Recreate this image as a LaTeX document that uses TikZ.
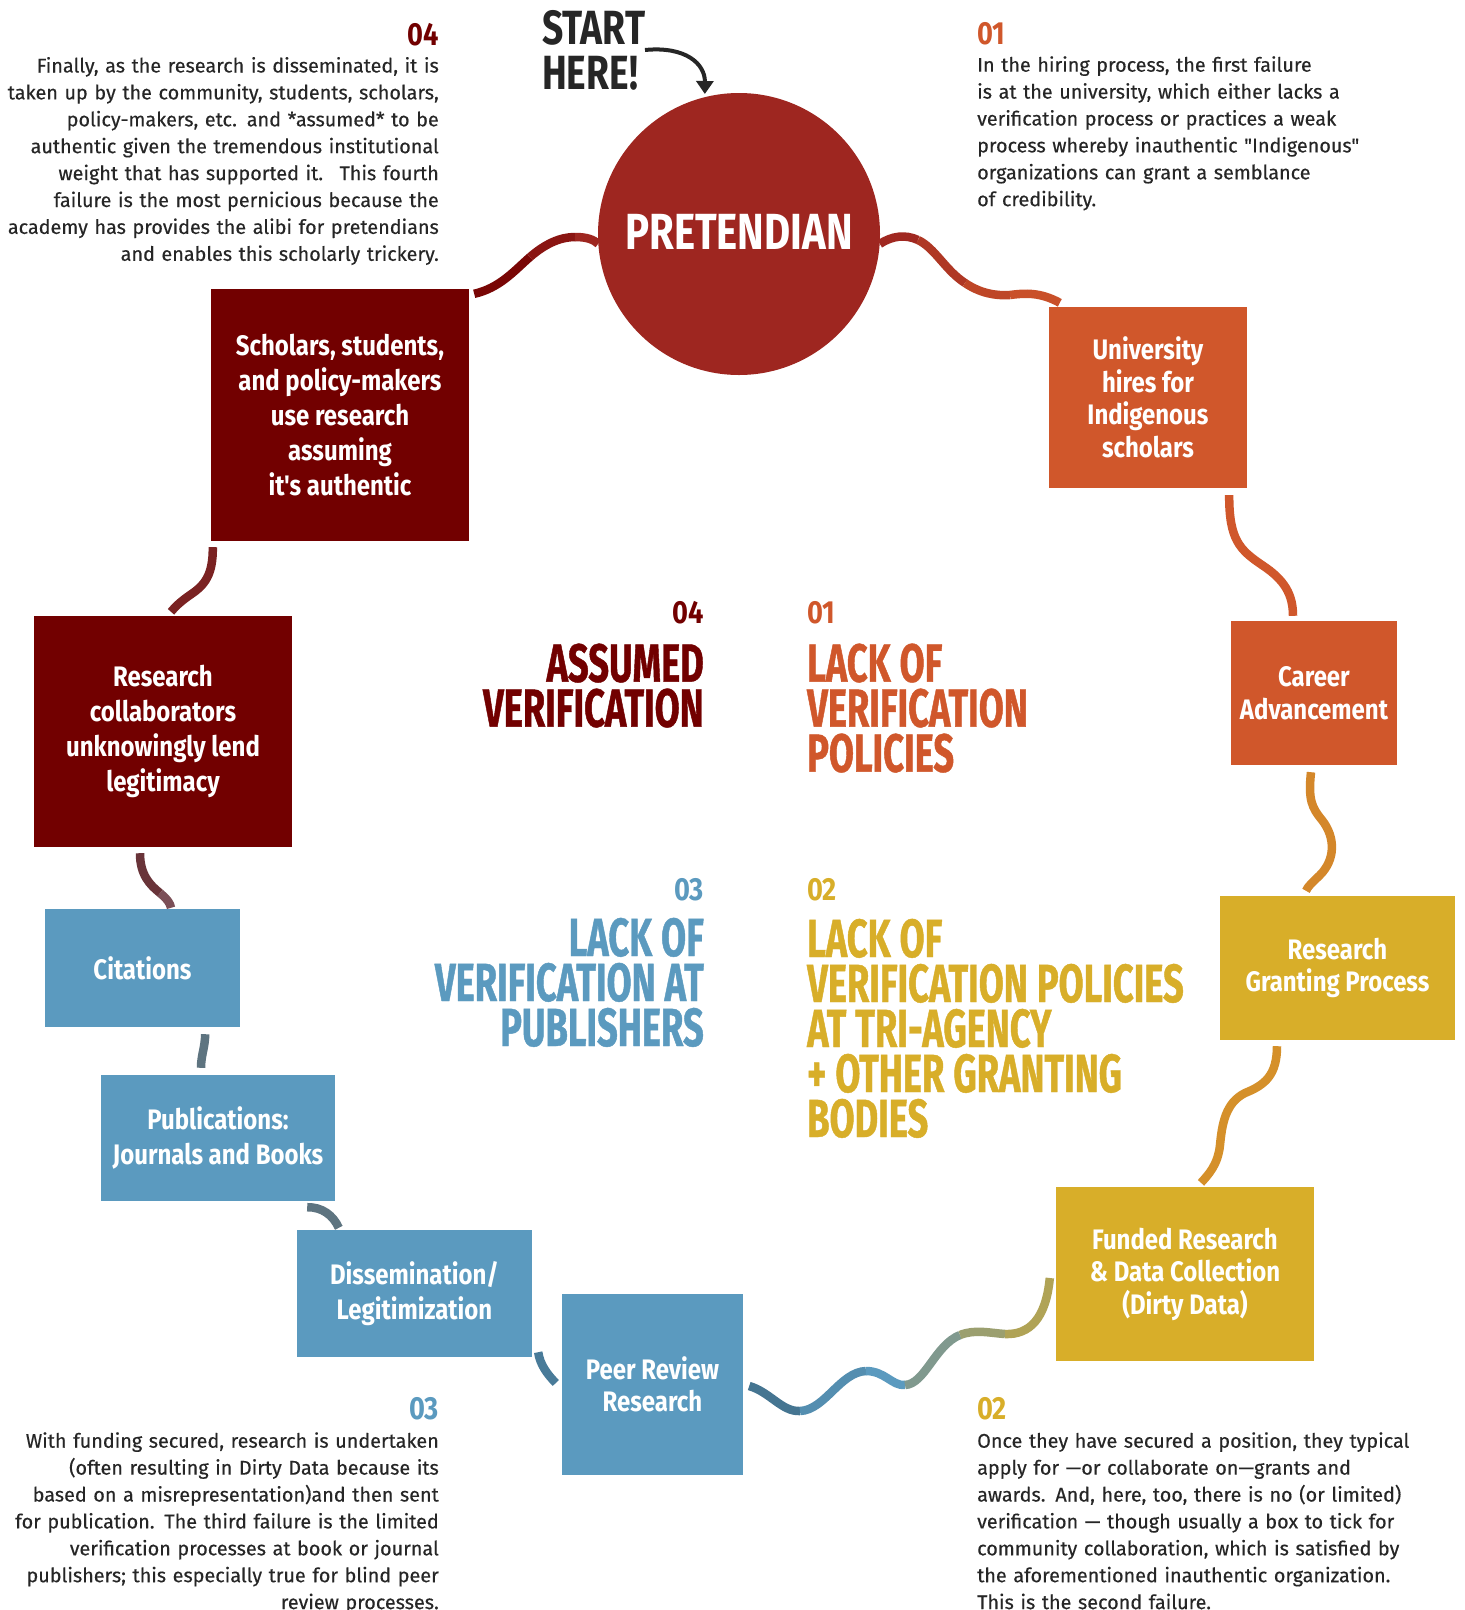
\documentclass[tikz,border=0pt]{standalone}
\usepackage{fontspec}
\usetikzlibrary{arrows.meta}
\newfontfamily\FontBody[FakeBold=0.35]{Fira Sans}
\newfontfamily\FontBox[FakeStretch=0.85]{Fira Sans}
\newfontfamily\FontHead[FakeStretch=0.675,FakeBold=0.8]{Fira Sans}
\newfontfamily\FontNum[FakeStretch=0.85]{Fira Sans}
\newfontfamily\FontCirc[FakeStretch=0.79]{Fira Sans}
\newfontfamily\FontStart[FakeStretch=0.775]{Fira Sans}
\definecolor{dred}{HTML}{720000}
\definecolor{circ}{HTML}{9E2620}
\definecolor{orng}{HTML}{D0572B}
\definecolor{gold}{HTML}{D8AE29}
\definecolor{blu}{HTML}{5B9ABF}
\definecolor{txt}{HTML}{262626}
\tikzset{
  flowbox/.style={rectangle, inner sep=0pt, align=center, text=white,
    font=\FontBox\bfseries\fontsize{28.2}{32.5}\selectfont},
  widelines/.style={font=\FontBox\bfseries\fontsize{28.2}{34.8}\selectfont},
  conn/.style={line width=8.5pt, line cap=butt},
  para/.style={inner sep=0pt, text=txt, font=\FontBody\fontsize{19.8}{26.9}\selectfont},
  headline/.style={inner sep=0pt, font=\FontHead\bfseries\fontsize{53.7}{45}\selectfont,
    execute at begin node={\spaceskip=9pt\relax}},
  numlabel/.style={inner sep=0pt, font=\FontNum\bfseries\fontsize{32}{32}\selectfont},
}
\begin{document}
\begin{tikzpicture}[x=1pt,y=-1pt]
\useasboundingbox (0,0) rectangle (1465,1610);
\fill[white] (0,0) rectangle (1465,1610);

% ---------- central circle and start label
\node[circle, fill=circ, minimum size=282pt, inner sep=0pt, text=white,
  font=\FontCirc\bfseries\fontsize{50.8}{50.8}\selectfont] (pret) at (739,234) {\raisebox{3.5pt}{PRETENDIAN}};
\node[anchor=north west, inner sep=0pt, align=left, text=txt,
  font=\FontStart\bfseries\fontsize{48}{45}\selectfont] (start) at (542,10) {START\\HERE!};
\coordinate (arrowstart) at (645,50);
\draw[line width=4pt, txt, -{Triangle[length=13pt,width=17pt]}] (arrowstart) .. controls (686,46) and (705,64) .. ([shift={(0,-3)}]pret.104);

% ---------- boxes
\node[flowbox, widelines, fill=dred, minimum width=258pt, minimum height=252pt] (schol) at (340,415)
  {Scholars, students,\\and policy-makers\\use research\\assuming\\it's authentic};
\node[flowbox, fill=orng, minimum width=198pt, minimum height=181pt] (uni) at (1148,397.5)
  {University\\hires for\\Indigenous\\scholars};
\node[flowbox, fill=orng, minimum width=166pt, minimum height=144pt] (career) at (1314,693)
  {Career\\Advancement};
\node[flowbox, fill=gold, minimum width=235pt, minimum height=144pt] (grant) at (1337.5,968)
  {Research\\Granting Process};
\node[flowbox, fill=gold, minimum width=258pt, minimum height=174pt] (fund) at (1185,1274)
  {Funded Research\\\& Data Collection\\(Dirty Data)};
\node[flowbox, fill=blu, minimum width=181pt, minimum height=181pt] (peer) at (652.5,1384.5)
  {Peer Review\\Research};
\node[flowbox, widelines, fill=blu, minimum width=235pt, minimum height=127pt] (diss) at (414.5,1293.5)
  {Dissemination/\\Legitimization};
\node[flowbox, widelines, fill=blu, minimum width=234pt, minimum height=126pt] (pub) at (218,1138)
  {Publications:\\Journals and Books};
\node[flowbox, fill=blu, minimum width=195pt, minimum height=118pt] (cit) at (142.5,968)
  {Citations};
\node[flowbox, widelines, fill=dred, minimum width=258pt, minimum height=231pt] (res) at (163,731.5)
  {Research\\collaborators\\unknowingly lend\\legitimacy};

% ---------- connectors
% scholars -> pretendian
\draw[conn, color=dred!85!circ] ([shift={(5,5)}]schol.north east) .. controls (500,288) and (515,270) .. (530,257) coordinate (s1);
\draw[conn, color=dred!45!circ] (s1) .. controls (545,244) and (560,237) .. (575,237) coordinate (s2);
\draw[conn, color=circ] (s2) .. controls (588,237) and (594,240) .. (pret.184);
% pretendian -> university
\draw[conn, color=circ!95!orng] (pret.-4) .. controls (892,236) and (905,234) .. (918,240) coordinate (u1);
\draw[conn, color=circ!65!orng] (u1) .. controls (935,248) and (945,270) .. (965,283) coordinate (u2);
\draw[conn, color=circ!35!orng] (u2) .. controls (980,293) and (995,296) .. (1010,295) coordinate (u3);
\draw[conn, color=circ!15!orng] (u3) .. controls (1025,293) and (1040,292) .. ([shift={(11,-4)}]uni.north west);
% university -> career
\draw[conn, color=orng] ([shift={(-18,7)}]uni.south east) .. controls (1229,540) and (1240,550) .. (1262,565) .. controls (1285,580) and (1293,595) .. ([shift={(-21,-5)}]career.north);
% career -> granting
\draw[conn, color=orng!45!gold] ([shift={(-3,7)}]career.south) .. controls (1308,800) and (1312,808) .. (1322,820) .. controls (1336,838) and (1335,860) .. (1320,875) .. controls (1312,883) and (1308,886) .. ([shift={(-31.5,-5)}]grant.north);
% granting -> funded
\draw[conn, color=orng!35!gold] ([shift={(-60.5,6)}]grant.south) .. controls (1277,1075) and (1265,1085) .. (1245,1093) .. controls (1225,1103) and (1222,1125) .. (1220,1145) .. controls (1218,1165) and (1208,1175) .. ([shift={(16,-4)}]fund.north);
% funded -> peer review (gradient)
\draw[conn, color=blu!70!black!80!blu] ([shift={(6,1.5)}]peer.east) .. controls (770,1392) and (782,1412) .. (800,1411) coordinate (f1);
\draw[conn, color=blu!92!black] (f1) .. controls (825,1410) and (840,1372) .. (866,1371) coordinate (f2);
\draw[conn, color=blu] (f2) .. controls (885,1371) and (892,1386) .. (905,1385) coordinate (f3);
\draw[conn, color=blu!70!gold!80!gray] (f3) .. controls (925,1384) and (935,1345) .. (960,1335) coordinate (f4);
\draw[conn, color=blu!45!gold!85!gray] (f4) .. controls (975,1329) and (990,1333) .. (1005,1334) coordinate (f5);
\draw[conn, color=blu!25!gold!85!gray] (f5) .. controls (1030,1335) and (1046,1318) .. ([shift={(-6,4)}]fund.west);
% peer -> dissemination
\draw[conn, color=blu!80!black] ([shift={(6,-5)}]diss.south east) .. controls (540,1365) and (548,1375) .. ([shift={(-6,-1.5)}]peer.west);
% dissemination -> publications
\draw[conn, color=blu!45!black!75!white] ([shift={(42,-2)}]diss.north west) .. controls (333,1215) and (322,1207) .. ([shift={(-28,6)}]pub.south east);
% publications -> citations
\draw[conn, color=blu!45!black!75!white] ([shift={(-17,-7)}]pub.north) .. controls (201,1055) and (205,1048) .. ([shift={(-35,7)}]cit.south east);
% citations -> research collaborators
\draw[conn, color=blu!30!dred!80!white!90!black] ([shift={(28.5,-1)}]cit.north) .. controls (170,903) and (168,900) .. (160,893) coordinate (c1);
\draw[conn, color=dred!80!blu!85!white!80!black] (c1) .. controls (150,885) and (140,875) .. ([shift={(-23,6)}]res.south);
% research collaborators -> scholars
\draw[conn, color=dred!85!white!90!black] ([shift={(8,-4)}]res.north) .. controls (175,607) and (180,602) .. (190,595) .. controls (205,585) and (213,575) .. ([shift={(2,6)}]schol.south west);

% ---------- paragraph texts
\node[numlabel, text=dred, anchor=base east] (n4) at (439,45) {04};
\node[para, anchor=base east, text width=440pt, align=right] (p4) at (439,72.5)
  {Finally, as the research is disseminated, it is\\
   taken up by the community, students, scholars,\\
   policy-makers, etc. and *assumed* to be\\
   authentic given the tremendous institutional\\
   weight that has supported it.~ This fourth\\
   failure is the most pernicious because the\\
   academy has provides the alibi for pretendians\\
   and enables this scholarly trickery.};
\node[numlabel, text=orng, anchor=base west] (n1) at (977,44.5) {01};
\node[para, anchor=base west, text width=480pt, align=left] (p1) at (977,71.7)
  {In the hiring process, the first failure\\
   is at the university, which either lacks a\\
   verification process or practices a weak\\
   process whereby inauthentic "Indigenous"\\
   organizations can grant a semblance\\
   of credibility.};
\node[numlabel, text=blu, anchor=base east] (n3) at (439,1419) {03};
\node[para, anchor=base east, text width=440pt, align=right] (p3) at (439,1447.7)
  {With funding secured, research is undertaken\\
   (often resulting in Dirty Data because its\\
   based on a misrepresentation)and then sent\\
   for publication. The third failure is the limited\\
   verification processes at book or journal\\
   publishers; this especially true for blind peer\\
   review processes.};
\node[numlabel, text=gold, anchor=base west] (n2) at (977,1419) {02};
\node[para, anchor=base west, text width=480pt, align=left] (p2) at (977,1447.7)
  {Once they have secured a position, they typical\\
   apply for —or collaborate on—grants and\\
   awards. And, here, too, there is no (or limited)\\
   verification — though usually a box to tick for\\
   community collaboration, which is satisfied by\\
   the aforementioned inauthentic organization.\\
   This is the second failure.};

% ---------- central headlines
\node[numlabel, text=dred, anchor=base east] (c4) at (704,623) {04};
\node[headline, text=dred, anchor=base east, text width=400pt, align=right] (h4) at (704,681.7)
  {ASSUMED\\VERIFICATION};
\node[numlabel, text=orng, anchor=base west] (c1n) at (807,623) {01};
\node[headline, text=orng, anchor=base west, text width=400pt, align=left] (h1) at (807,681.7)
  {LACK OF\\VERIFICATION\\POLICIES};
\node[numlabel, text=blu, anchor=base east] (c3) at (704,900) {03};
\node[headline, text=blu, anchor=base east, text width=400pt, align=right] (h3) at (704,956)
  {LACK OF\\VERIFICATION AT\\PUBLISHERS};
\node[numlabel, text=gold, anchor=base west] (c2) at (807,900) {02};
\node[headline, text=gold, anchor=base west, text width=440pt, align=left] (h2) at (807,957)
  {LACK OF\\VERIFICATION POLICIES\\AT TRI-AGENCY\\+ OTHER GRANTING\\BODIES};
\end{tikzpicture}
\end{document}
